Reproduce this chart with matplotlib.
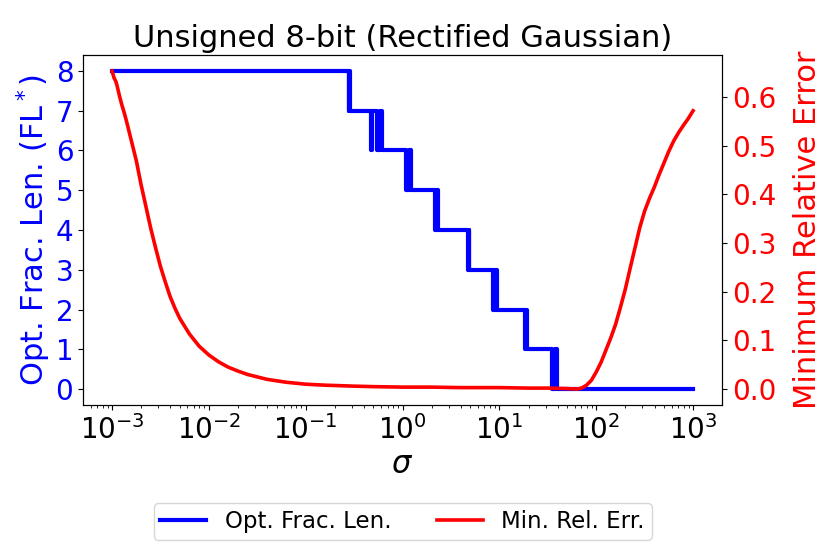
import numpy as np
import matplotlib
matplotlib.use("Agg")
import matplotlib.pyplot as plt

# Opt. frac. length: niveles y bandas de transicion (log10 sigma)
fl_levels = [8, 7, 6, 5, 4, 3, 2, 1, 0]
band_lo = [-0.555, -0.26, 0.04, 0.335, 0.675, 0.935, 1.265, 1.54]
band_hi = [-0.545, -0.21, 0.09, 0.37, 0.69, 0.98, 1.29, 1.60]
spike_logsig = -0.318  # pico 7 -> 6 -> 7
sig_min_log, sig_max_log = -3.0, 3.0

# Min. relative error (log10 sigma, valor)
err_logsig = [-3.0, -2.98, -2.96, -2.95, -2.92, -2.9, -2.87, -2.85, -2.8, -2.75,
              -2.7, -2.65, -2.6, -2.55, -2.5, -2.45, -2.4, -2.35, -2.3, -2.2,
              -2.1, -2.0, -1.9, -1.8, -1.7, -1.6, -1.5, -1.4, -1.3, -1.2,
              -1.0, -0.8, -0.5, -0.3, 0.0, 0.3, 0.6, 1.0, 1.3, 1.5,
              1.7, 1.8, 1.85, 1.9, 1.95, 2.0, 2.05, 2.1, 2.15, 2.2,
              2.25, 2.3, 2.35, 2.4, 2.45, 2.5, 2.55, 2.6, 2.65, 2.7,
              2.75, 2.8, 2.85, 2.9, 2.95, 3.0]
err_vals = [0.654, 0.640, 0.632, 0.625, 0.600, 0.585, 0.565, 0.550, 0.510, 0.470,
            0.420, 0.375, 0.330, 0.290, 0.252, 0.220, 0.190, 0.166, 0.145, 0.113,
            0.088, 0.070, 0.056, 0.045, 0.037, 0.030, 0.025, 0.020, 0.017, 0.014,
            0.010, 0.008, 0.006, 0.005, 0.004, 0.004, 0.003, 0.003, 0.002, 0.002,
            0.001, 0.000, 0.002, 0.008, 0.018, 0.035, 0.055, 0.080, 0.105, 0.133,
            0.168, 0.205, 0.248, 0.290, 0.332, 0.366, 0.392, 0.415, 0.441, 0.465,
            0.489, 0.510, 0.527, 0.542, 0.556, 0.572]

# Camino escalonado para FL
xs = [sig_min_log]
ys = [fl_levels[0]]
for i in range(len(band_lo)):
    up, dn = fl_levels[i], fl_levels[i + 1]
    if up == 7:
        xs += [spike_logsig - 0.004, spike_logsig - 0.004,
               spike_logsig + 0.004, spike_logsig + 0.004]
        ys += [7, 6, 6, 7]
    mid = 0.5 * (band_lo[i] + band_hi[i])
    xs += [band_lo[i], band_lo[i], mid, mid, band_hi[i], band_hi[i]]
    ys += [up, dn, dn, up, up, dn]
xs.append(sig_max_log)
ys.append(fl_levels[-1])
fl_sigma = 10.0 ** np.array(xs)
err_sigma = 10.0 ** np.array(err_logsig)

fig = plt.figure(figsize=(8.3, 5.54), dpi=100)
ax1 = fig.add_subplot(111)
fig.subplots_adjust(left=0.1, right=0.87, top=0.9007, bottom=0.269)

l1, = ax1.plot(fl_sigma, ys, color='blue', lw=3.0, label='Opt. Frac. Len.')
ax1.set_xscale('log')
ax1.set_xlabel(r'$\sigma$', fontsize=22)
ax1.set_ylabel(r'Opt. Frac. Len. (FL$^*$)', color='blue', fontsize=22,
               labelpad=2)
ax1.tick_params(axis='y', colors='blue', labelsize=20)
ax1.tick_params(axis='y', which='both', color='black')
ax1.tick_params(axis='x', labelsize=20)
ax1.set_yticks(range(0, 9))

ax2 = ax1.twinx()
l2, = ax2.plot(err_sigma, err_vals, color='red', lw=2.6, label='Min. Rel. Err.')
ax2.set_ylabel('Minimum Relative Error', color='red', fontsize=22, labelpad=12)
ax2.tick_params(axis='y', colors='red', labelsize=20)
ax2.tick_params(axis='y', which='both', color='black')
ax2.set_yticks([0.0, 0.1, 0.2, 0.3, 0.4, 0.5, 0.6])

ax1.set_title('Unsigned 8-bit (Rectified Gaussian)', fontsize=22)
fig.legend(handles=[l1, l2], loc='center', bbox_to_anchor=(0.485, 0.059),
           ncol=2, fontsize=16.5, borderpad=0.3)

fig.savefig('out.png', dpi=100)
